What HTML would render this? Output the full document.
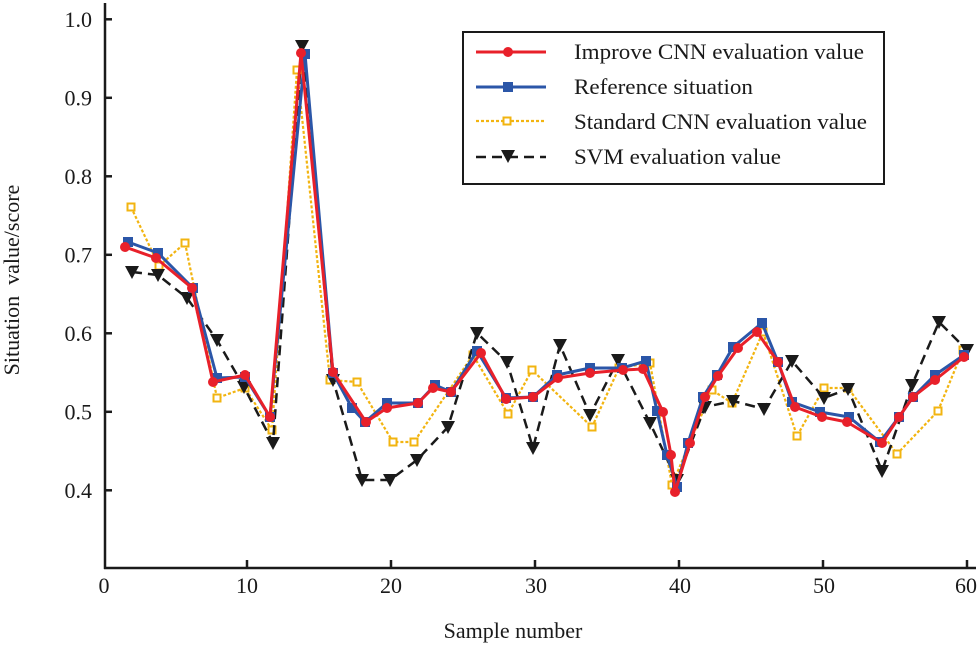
<!DOCTYPE html>
<html>
<head>
<meta charset="utf-8">
<style>
html,body{margin:0;padding:0;background:#fff;}
svg{display:block;}
text{font-family:"Liberation Serif","Times New Roman",serif;fill:#1a1a1a;}
</style>
</head>
<body>
<svg width="977" height="645" viewBox="0 0 977 645" xmlns="http://www.w3.org/2000/svg">
<defs>
  <g id="tri"><polygon points="-7,-6 7,-6 0,7" fill="#1a1a1a"/></g>
  <g id="circ"><circle r="5" fill="#e8202a"/></g>
  <g id="sq"><rect x="-5" y="-5" width="10" height="10" fill="#2b56a8"/></g>
  <g id="hsq"><rect x="-3.5" y="-3.5" width="7" height="7" fill="#fff" stroke="#f2b410" stroke-width="2"/></g>
</defs>
<rect width="977" height="645" fill="#fff"/>

<!-- axes -->
<line x1="105" y1="3" x2="105" y2="569" stroke="#1a1a1a" stroke-width="2.5"/>
<line x1="104" y1="568" x2="976" y2="568" stroke="#1a1a1a" stroke-width="2.5"/>

<!-- y ticks -->
<g stroke="#1a1a1a" stroke-width="2.5">
  <line x1="105" y1="19.3" x2="112" y2="19.3"/>
  <line x1="105" y1="97.8" x2="112" y2="97.8"/>
  <line x1="105" y1="176.3" x2="112" y2="176.3"/>
  <line x1="105" y1="254.8" x2="112" y2="254.8"/>
  <line x1="105" y1="333.3" x2="112" y2="333.3"/>
  <line x1="105" y1="411.8" x2="112" y2="411.8"/>
  <line x1="105" y1="490.3" x2="112" y2="490.3"/>
  <line x1="247" y1="568" x2="247" y2="560"/>
  <line x1="391" y1="568" x2="391" y2="560"/>
  <line x1="535" y1="568" x2="535" y2="560"/>
  <line x1="679" y1="568" x2="679" y2="560"/>
  <line x1="823" y1="568" x2="823" y2="560"/>
  <line x1="967" y1="568" x2="967" y2="560"/>
</g>
<g font-size="22" text-anchor="end">
  <text x="92" y="27">1.0</text>
  <text x="92" y="105.5">0.9</text>
  <text x="92" y="184">0.8</text>
  <text x="92" y="262.5">0.7</text>
  <text x="92" y="341">0.6</text>
  <text x="92" y="419.5">0.5</text>
  <text x="92" y="498">0.4</text>
</g>
<g font-size="22" text-anchor="middle">
  <text x="104" y="593">0</text>
  <text x="247" y="593">10</text>
  <text x="391" y="593">20</text>
  <text x="536" y="593">30</text>
  <text x="680" y="593">40</text>
  <text x="824" y="593">50</text>
  <text x="966" y="593">60</text>
</g>
<text x="513" y="638" font-size="22" text-anchor="middle">Sample number</text>
<text transform="translate(19,280) rotate(-90)" font-size="22" text-anchor="middle" xml:space="preserve">Situation  value/score</text>

<!-- Standard CNN (yellow dotted) -->
<polyline fill="none" stroke="#f2b410" stroke-width="2.2" stroke-dasharray="3,2"
 points="131,207 159,266 185,243 217,398 245,388 272,430 297,70 330,380 357,382 393,442 414,442 473,355 508,414 532,370 592,427 619,368 650,363 672,485 712,390 732,403 763,332 797,436 824,388 848,388 897,454 938,411 963,350"/>
<g>
  <use href="#hsq" x="131" y="207"/><use href="#hsq" x="159" y="266"/><use href="#hsq" x="185" y="243"/>
  <use href="#hsq" x="217" y="398"/><use href="#hsq" x="245" y="388"/><use href="#hsq" x="272" y="430"/>
  <use href="#hsq" x="297" y="70"/><use href="#hsq" x="330" y="380"/><use href="#hsq" x="357" y="382"/>
  <use href="#hsq" x="393" y="442"/><use href="#hsq" x="414" y="442"/><use href="#hsq" x="473" y="355"/>
  <use href="#hsq" x="508" y="414"/><use href="#hsq" x="532" y="370"/><use href="#hsq" x="592" y="427"/>
  <use href="#hsq" x="619" y="368"/><use href="#hsq" x="650" y="363"/><use href="#hsq" x="672" y="485"/>
  <use href="#hsq" x="712" y="390"/><use href="#hsq" x="732" y="403"/><use href="#hsq" x="763" y="332"/>
  <use href="#hsq" x="797" y="436"/><use href="#hsq" x="824" y="388"/><use href="#hsq" x="848" y="388"/>
  <use href="#hsq" x="897" y="454"/><use href="#hsq" x="938" y="411"/><use href="#hsq" x="963" y="350"/>
</g>

<!-- SVM (black dashed) -->
<polyline fill="none" stroke="#1a1a1a" stroke-width="2.5" stroke-dasharray="10,6"
 points="132,272 158,275 187,298 217,340 244,387 273,443 302,46 333,380 362,480 390,480 417,460 448,427 477,333 507,362 533,448 560,345 590,415 618,360 650,423 677,480 705,407 733,401 764,409 792,361 824,398 848,389 882,471 912,385 939,322 967,350"/>
<g>
  <use href="#tri" x="132" y="272"/><use href="#tri" x="158" y="275"/><use href="#tri" x="187" y="298"/>
  <use href="#tri" x="217" y="340"/><use href="#tri" x="244" y="387"/><use href="#tri" x="273" y="443"/>
  <use href="#tri" x="302" y="46"/><use href="#tri" x="333" y="380"/><use href="#tri" x="362" y="480"/>
  <use href="#tri" x="390" y="480"/><use href="#tri" x="417" y="460"/><use href="#tri" x="448" y="427"/>
  <use href="#tri" x="477" y="333"/><use href="#tri" x="507" y="362"/><use href="#tri" x="533" y="448"/>
  <use href="#tri" x="560" y="345"/><use href="#tri" x="590" y="415"/><use href="#tri" x="618" y="360"/>
  <use href="#tri" x="650" y="423"/><use href="#tri" x="677" y="480"/><use href="#tri" x="705" y="407"/>
  <use href="#tri" x="733" y="401"/><use href="#tri" x="764" y="409"/><use href="#tri" x="792" y="361"/>
  <use href="#tri" x="824" y="398"/><use href="#tri" x="848" y="389"/><use href="#tri" x="882" y="471"/>
  <use href="#tri" x="912" y="385"/><use href="#tri" x="939" y="322"/><use href="#tri" x="967" y="350"/>
</g>

<!-- Reference (blue) -->
<polyline fill="none" stroke="#2b56a8" stroke-width="3" stroke-linejoin="round"
 points="128,242 158,253 193,288 217,378 245,377 270,417 305,54 333,373 352,408 365,422 387,403 418,403 435,385 451,392 477,351 506,398 533,397 557,375 590,368 622,368 646,361 657,411 667,455 677,487 688,443 703,397 717,375 733,347 762,323 778,362 792,402 820,412 849,417 880,442 899,417 913,397 935,375 964,355"/>
<g>
  <use href="#sq" x="128" y="242"/><use href="#sq" x="158" y="253"/><use href="#sq" x="193" y="288"/>
  <use href="#sq" x="217" y="378"/><use href="#sq" x="245" y="377"/><use href="#sq" x="270" y="417"/>
  <use href="#sq" x="305" y="54"/><use href="#sq" x="333" y="373"/><use href="#sq" x="352" y="408"/>
  <use href="#sq" x="365" y="422"/><use href="#sq" x="387" y="403"/><use href="#sq" x="418" y="403"/>
  <use href="#sq" x="435" y="385"/><use href="#sq" x="451" y="392"/><use href="#sq" x="477" y="351"/>
  <use href="#sq" x="506" y="398"/><use href="#sq" x="533" y="397"/><use href="#sq" x="557" y="375"/>
  <use href="#sq" x="590" y="368"/><use href="#sq" x="622" y="368"/><use href="#sq" x="646" y="361"/>
  <use href="#sq" x="657" y="411"/><use href="#sq" x="667" y="455"/><use href="#sq" x="677" y="487"/>
  <use href="#sq" x="688" y="443"/><use href="#sq" x="703" y="397"/><use href="#sq" x="717" y="375"/>
  <use href="#sq" x="733" y="347"/><use href="#sq" x="762" y="323"/><use href="#sq" x="778" y="362"/>
  <use href="#sq" x="792" y="402"/><use href="#sq" x="820" y="412"/><use href="#sq" x="849" y="417"/>
  <use href="#sq" x="880" y="442"/><use href="#sq" x="899" y="417"/><use href="#sq" x="913" y="397"/>
  <use href="#sq" x="935" y="375"/><use href="#sq" x="964" y="355"/>
</g>

<!-- Improve CNN (red) -->
<polyline fill="none" stroke="#e8202a" stroke-width="3" stroke-linejoin="round"
 points="125,247 156,258 192,288 213,382 245,375 270,417 301,53 333,372 366,422 387,408 418,403 433,388 451,392 481,353 506,399 533,397 558,378 590,373 623,370 643,369 663,412 671,455 675,492 690,443 705,397 718,376 738,348 757,332 778,362 795,407 822,417 847,422 882,443 899,417 913,397 935,380 964,357"/>
<g>
  <use href="#circ" x="125" y="247"/><use href="#circ" x="156" y="258"/><use href="#circ" x="192" y="288"/>
  <use href="#circ" x="213" y="382"/><use href="#circ" x="245" y="375"/><use href="#circ" x="270" y="417"/>
  <use href="#circ" x="301" y="53"/><use href="#circ" x="333" y="372"/><use href="#circ" x="366" y="422"/>
  <use href="#circ" x="387" y="408"/><use href="#circ" x="418" y="403"/><use href="#circ" x="433" y="388"/>
  <use href="#circ" x="451" y="392"/><use href="#circ" x="481" y="353"/><use href="#circ" x="506" y="399"/>
  <use href="#circ" x="533" y="397"/><use href="#circ" x="558" y="378"/><use href="#circ" x="590" y="373"/>
  <use href="#circ" x="623" y="370"/><use href="#circ" x="643" y="369"/><use href="#circ" x="663" y="412"/>
  <use href="#circ" x="671" y="455"/><use href="#circ" x="675" y="492"/><use href="#circ" x="690" y="443"/>
  <use href="#circ" x="705" y="397"/><use href="#circ" x="718" y="376"/><use href="#circ" x="738" y="348"/>
  <use href="#circ" x="757" y="332"/><use href="#circ" x="778" y="362"/><use href="#circ" x="795" y="407"/>
  <use href="#circ" x="822" y="417"/><use href="#circ" x="847" y="422"/><use href="#circ" x="882" y="443"/>
  <use href="#circ" x="899" y="417"/><use href="#circ" x="913" y="397"/><use href="#circ" x="935" y="380"/>
  <use href="#circ" x="964" y="357"/>
</g>

<!-- legend -->
<rect x="463" y="32" width="421" height="152" fill="#fff" stroke="#1a1a1a" stroke-width="2"/>
<line x1="476" y1="52" x2="546" y2="52" stroke="#e8202a" stroke-width="3"/>
<use href="#circ" x="508" y="52"/>
<line x1="476" y1="87" x2="546" y2="87" stroke="#2b56a8" stroke-width="3"/>
<use href="#sq" x="508" y="87"/>
<line x1="476" y1="121" x2="546" y2="121" stroke="#f2b410" stroke-width="2.2" stroke-dasharray="3,2"/>
<use href="#hsq" x="507" y="121"/>
<line x1="476" y1="157" x2="546" y2="157" stroke="#1a1a1a" stroke-width="2.5" stroke-dasharray="10,6"/>
<use href="#tri" x="508" y="156"/>
<g font-size="22">
  <text x="574" y="59" textLength="290" lengthAdjust="spacingAndGlyphs">Improve CNN evaluation value</text>
  <text x="574" y="94" textLength="179" lengthAdjust="spacingAndGlyphs">Reference situation</text>
  <text x="574" y="129" textLength="293" lengthAdjust="spacingAndGlyphs">Standard CNN evaluation value</text>
  <text x="574" y="164" textLength="207" lengthAdjust="spacingAndGlyphs">SVM evaluation value</text>
</g>
</svg>
</body>
</html>
